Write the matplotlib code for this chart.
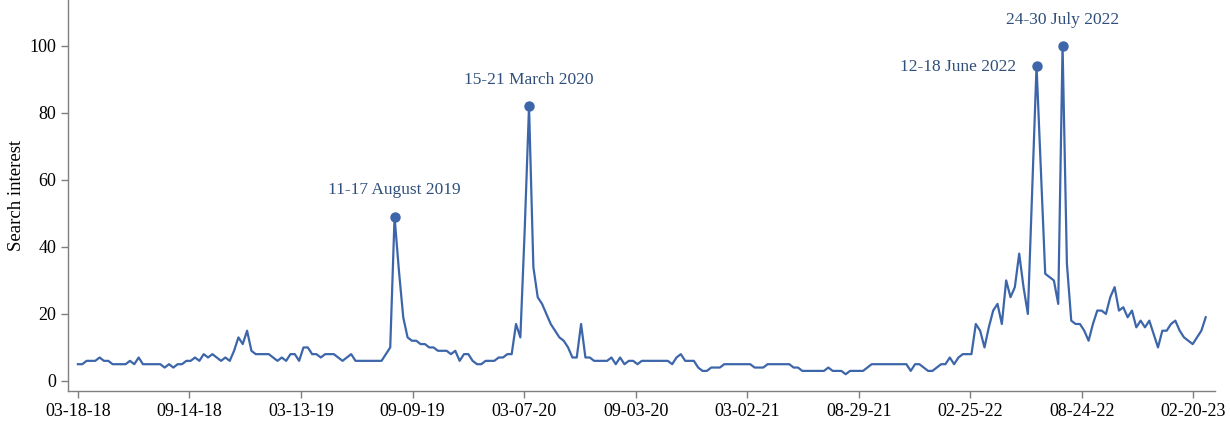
import numpy as np
import pandas as pd
import matplotlib
matplotlib.use("Agg")
import matplotlib.pyplot as plt
import matplotlib.dates as mdates

# weekly search interest, first week starting 2018-03-18
start_week = "2018-03-18"
interest = [
    5, 5, 6, 6, 6, 7, 6, 6, 5, 5, 5, 5, 6, 5, 7, 5, 5, 5, 5, 5,
    4, 5, 4, 5, 5, 6, 6, 7, 6, 8, 7, 8, 7, 6, 7, 6, 9, 13, 11, 15,
    9, 8, 8, 8, 8, 7, 6, 7, 6, 8, 8, 6, 10, 10, 8, 8, 7, 8, 8, 8,
    7, 6, 7, 8, 6, 6, 6, 6, 6, 6, 6, 8, 10, 49, 33, 19, 13, 12, 12, 11,
    11, 10, 10, 9, 9, 9, 8, 9, 6, 8, 8, 6, 5, 5, 6, 6, 6, 7, 7, 8,
    8, 17, 13, 45, 82, 34, 25, 23, 20, 17, 15, 13, 12, 10, 7, 7, 17, 7, 7, 6,
    6, 6, 6, 7, 5, 7, 5, 6, 6, 5, 6, 6, 6, 6, 6, 6, 6, 5, 7, 8,
    6, 6, 6, 4, 3, 3, 4, 4, 4, 5, 5, 5, 5, 5, 5, 5, 4, 4, 4, 5,
    5, 5, 5, 5, 5, 4, 4, 3, 3, 3, 3, 3, 3, 4, 3, 3, 3, 2, 3, 3,
    3, 3, 4, 5, 5, 5, 5, 5, 5, 5, 5, 5, 3, 5, 5, 4, 3, 3, 4, 5,
    5, 7, 5, 7, 8, 8, 8, 17, 15, 10, 16, 21, 23, 17, 30, 25, 28, 38, 28, 20,
    57, 94, 63, 32, 31, 30, 23, 100, 35, 18, 17, 17, 15, 12, 17, 21, 21, 20, 25, 28,
    21, 22, 19, 21, 16, 18, 16, 18, 14, 10, 15, 15, 17, 18, 15, 13, 12, 11, 13, 15,
    19,
]

# highlighted peaks: week start and label
peak_weeks = ["2019-08-11", "2020-03-15", "2022-06-12", "2022-07-24"]
peak_labels = ["11-17 August 2019", "15-21 March 2020", "12-18 June 2022", "24-30 July 2022"]

weeks = pd.date_range(start_week, periods=len(interest), freq="7D")
series = pd.Series(interest, index=weeks)

line_color = "#3d66aa"
text_color = "#2f4f7a"
axis_gray = "#7f7f7f"

plt.rcParams["font.family"] = ["Liberation Serif", "DejaVu Serif"]

fig = plt.figure(figsize=(12.3, 4.23), dpi=100)
ax = fig.add_axes([68 / 1230, 32 / 423, (1215 - 68) / 1230, 391 / 423])

ax.plot(series.index, series.values, color=line_color, lw=1.6)

for wk, lab in zip(peak_weeks, peak_labels):
    d = pd.Timestamp(wk)
    v = series[d]
    ax.plot(d, v, "o", color=line_color, ms=6.5)
    if lab.startswith("12-18"):
        ax.annotate(lab, (d, v), xytext=(-15, -1), textcoords="offset points",
                    ha="right", va="center", fontsize=12.5, color=text_color)
    else:
        ax.annotate(lab, (d, v), xytext=(0, 19), textcoords="offset points",
                    ha="center", va="center", fontsize=12.5, color=text_color)

tick_dates = pd.date_range("2018-03-18", periods=11, freq="180D")
ax.set_xticks(tick_dates)
ax.xaxis.set_major_formatter(mdates.DateFormatter("%m-%d-%y"))
ax.set_xlim(pd.Timestamp("2018-03-02"), pd.Timestamp("2023-03-27"))

ax.set_ylim(-3, 113.7)
ax.set_yticks(range(0, 101, 20))
ax.set_ylabel("Search interest", fontsize=13.5, labelpad=3)

for side in ["top", "right"]:
    ax.spines[side].set_visible(False)
for side in ["left", "bottom"]:
    ax.spines[side].set_color(axis_gray)
    ax.spines[side].set_linewidth(1.0)
ax.tick_params(axis="both", colors=axis_gray, labelcolor="black", labelsize=13,
               length=5, width=1.0, direction="out")

fig.savefig("out.png", dpi=100)
